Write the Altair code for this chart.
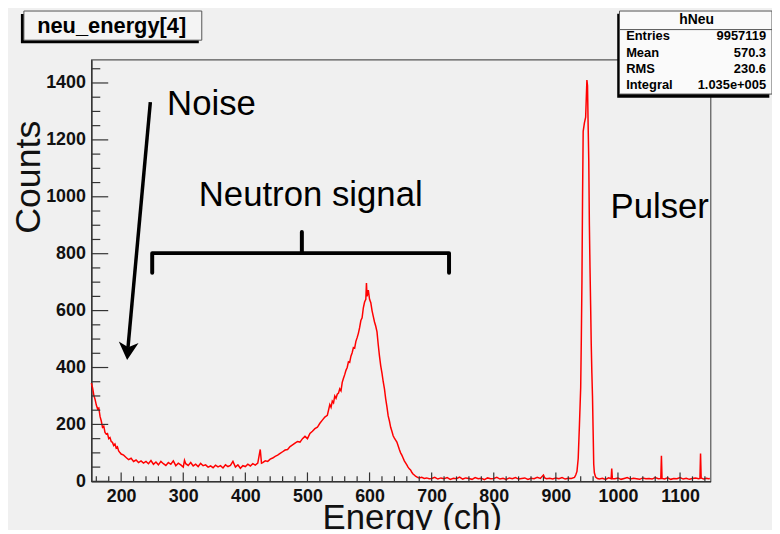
import altair as alt
import pandas as pd

# ---------------- data ----------------
energy = [152, 154, 156, 158, 160, 162, 164, 166, 168, 170, 172, 174, 176, 178, 180,
          182, 184, 186, 188, 190, 192, 194, 196, 198, 200, 204, 208, 212, 216, 220,
          224, 228, 232, 236, 240, 244, 248, 252, 256, 260, 264, 268, 272, 276, 280,
          284, 288, 292, 296, 300, 302, 304, 308, 312, 316, 320, 324, 328, 332, 336,
          340, 344, 348, 352, 356, 360, 364, 368, 372, 376, 380, 384, 388, 392, 396,
          400, 404, 408, 412, 416, 420, 424, 426, 428, 432, 436, 440, 444, 448, 452,
          456, 460, 464, 468, 472, 476, 480, 484, 488, 492, 496, 500, 504, 508, 512,
          516, 520, 524, 528, 532, 536, 538, 540, 542, 544, 546, 548, 550, 552, 554,
          556, 558, 560, 562, 564, 566, 568, 570, 572, 574, 576, 578, 580, 582, 584,
          586, 588, 590, 592, 594, 595, 596, 598, 600, 602, 604, 606, 608, 610, 612,
          614, 616, 618, 620, 622, 624, 626, 628, 630, 632, 634, 636, 638, 640, 642,
          644, 646, 648, 650, 652, 654, 656, 658, 660, 662, 664, 666, 668, 670, 672,
          674, 676, 678, 680, 684, 688, 692, 696, 700, 705, 710, 715, 720, 725, 730,
          735, 740, 745, 750, 755, 760, 765, 770, 775, 780, 785, 790, 795, 800, 805,
          810, 815, 820, 825, 830, 835, 840, 845, 850, 855, 860, 865, 870, 875, 880,
          882, 885, 890, 895, 900, 905, 910, 915, 920, 925, 930, 932, 934, 936, 938,
          940, 941, 942, 943, 944, 946, 948, 950, 951, 952, 953, 954, 955, 956, 957,
          958, 959, 960, 961, 962, 964, 967, 970, 975, 980, 985, 989, 990, 991, 995,
          1000, 1005, 1010, 1015, 1020, 1025, 1030, 1035, 1040, 1045, 1050, 1055, 1060, 1065, 1069,
          1070, 1071, 1075, 1080, 1085, 1090, 1095, 1100, 1105, 1110, 1115, 1120, 1125, 1130, 1132,
          1133, 1134, 1138, 1142, 1146, 1148]
counts = [345, 328, 302, 288, 268, 255, 258, 228, 212, 190, 194, 172, 166, 168, 150,
          154, 140, 137, 126, 131, 117, 121, 107, 101, 96, 92, 84, 76, 81, 70,
          75, 66, 72, 64, 70, 62, 73, 60, 68, 58, 70, 62, 56, 66, 60,
          72, 55, 64, 58, 50, 74, 62, 56, 66, 54, 60, 52, 63, 55, 58,
          50, 54, 48, 57, 51, 55, 47, 58, 52, 56, 70, 50, 58, 46, 55,
          52, 60, 54, 62, 57, 64, 112, 64, 66, 72, 70, 78, 82, 88, 92,
          98, 104, 110, 112, 122, 128, 134, 140, 138, 150, 158, 150, 168, 176, 185,
          190, 204, 215, 226, 232, 270, 260, 282, 276, 300, 292, 306, 310, 325, 318,
          348, 362, 375, 390, 400, 420, 418, 440, 452, 470, 468, 492, 505, 520, 540,
          565, 575, 610, 630, 640, 697, 650, 672, 640, 628, 600, 580, 560, 545, 525,
          480, 440, 406, 380, 350, 325, 290, 262, 230, 212, 190, 176, 160, 152, 145,
          138, 125, 112, 100, 92, 82, 72, 65, 58, 50, 44, 40, 32, 26, 22,
          18, 16, 13, 12, 14, 10, 12, 9, 10, 14, 8, 12, 9, 13, 7,
          11, 9, 15, 8, 12, 10, 7, 13, 9, 11, 6, 12, 9, 10, 14,
          8, 11, 7, 12, 9, 13, 8, 10, 12, 7, 11, 9, 14, 10, 22,
          12, 9, 11, 8, 12, 9, 13, 8, 11, 10, 14, 22, 35, 80, 200,
          330, 500, 700, 1000, 1230, 1260, 1280, 1410, 1390, 1250, 1130, 900, 750, 620, 480,
          380, 300, 180, 60, 30, 15, 10, 8, 11, 7, 12, 9, 45, 10, 9,
          12, 7, 10, 13, 8, 11, 9, 7, 12, 9, 10, 8, 13, 9, 10,
          90, 10, 8, 12, 7, 10, 9, 13, 8, 11, 7, 10, 12, 9, 10,
          98, 12, 8, 11, 9, 10]

x_major = [200, 300, 400, 500, 600, 700, 800, 900, 1000, 1100]
x_minor = [v for v in range(160, 1141, 20) if v % 100 != 0]
y_major = [0, 200, 400, 600, 800, 1000, 1200, 1400]
y_minor = [v for v in range(50, 1451, 50) if v % 200 != 0]

title_text = "neu_energy[4]"
stats_title = "hNeu"
stat_names = ["Entries", "Mean", "RMS", "Integral"]
stat_values = ["9957119", "570.3", "230.6", "1.035e+005"]

noise_x, noise_y = [274], [1287]
signal_x, signal_y = [325], [966]
pulser_x, pulser_y = [988], [925]
arrow_x, arrow_y = [247, 211], [1333, 470]
head_x, head_y = [211], [461]
bracket_x = [250, 250, 491, 491, 491, 728, 728]
bracket_y = [733, 802, 802, 876, 802, 802, 733]

# ---------------- chart ----------------
W, H = 624, 425
FONT = "Liberation Sans"
BG = "#f0f0f0"
xs = alt.Scale(domain=[152, 1149], nice=False, zero=False)
ys = alt.Scale(domain=[0, 1482], nice=False, zero=False)

df = pd.DataFrame({"energy": energy, "counts": counts})

hist = alt.Chart(df).mark_line(color="#ff0000", strokeWidth=1.5).encode(
    x=alt.X("energy:Q", scale=xs,
            axis=alt.Axis(values=x_major, format="d", ticks=False, tickSize=0, grid=False,
                          domainColor="#333333", domainWidth=1.5,
                          labelFont=FONT, labelFontWeight="bold", labelFontSize=18,
                          labelColor="#111111", labelPadding=6, labelFlush=False,
                          labelOverlap=False,
                          title="Energy (ch)", titleFont=FONT, titleFontSize=35,
                          titleFontWeight="normal", titleColor="#111111",
                          titleX=323, titleY=48, titleAlign="center",
                          titleBaseline="alphabetic")),
    y=alt.Y("counts:Q", scale=ys,
            axis=alt.Axis(values=y_major, format="d", ticks=False, tickSize=0, grid=False,
                          domainColor="#333333", domainWidth=1.5,
                          labelFont=FONT, labelFontWeight="bold", labelFontSize=18,
                          labelColor="#111111", labelPadding=6, labelFlush=False,
                          labelOverlap=False,
                          title="Counts", titleFont=FONT, titleFontSize=36,
                          titleFontWeight="normal", titleColor="#111111",
                          titleX=-52, titleY=118, titleAlign="center",
                          titleBaseline="alphabetic")),
)

def xticks(vals, length):
    return alt.Chart(pd.DataFrame({"energy": vals})).mark_rule(
        color="#333333", strokeWidth=1.2).encode(
        x=alt.X("energy:Q", scale=xs), y=alt.value(H), y2=alt.value(H - length))

def yticks(vals, length):
    return alt.Chart(pd.DataFrame({"counts": vals})).mark_rule(
        color="#333333", strokeWidth=1.2).encode(
        y=alt.Y("counts:Q", scale=ys), x=alt.value(0), x2=alt.value(length))

def label(xv, yv, txt, size=35):
    return alt.Chart(pd.DataFrame({"energy": xv, "counts": yv})).mark_text(
        text=txt, font=FONT, fontSize=size, align="left", baseline="alphabetic",
        color="#000000").encode(
        x=alt.X("energy:Q", scale=xs), y=alt.Y("counts:Q", scale=ys))

arrow = alt.Chart(pd.DataFrame({"energy": arrow_x, "counts": arrow_y})).mark_line(
    color="#000000", strokeWidth=3.5).encode(
    x=alt.X("energy:Q", scale=xs), y=alt.Y("counts:Q", scale=ys))
head = alt.Chart(pd.DataFrame({"energy": head_x, "counts": head_y})).mark_point(
    shape="M0,1L-1,-0.8L0,-0.3L1,-0.8Z", filled=True, size=400, angle=5,
    color="#000000", opacity=1).encode(
    x=alt.X("energy:Q", scale=xs), y=alt.Y("counts:Q", scale=ys))
bracket = alt.Chart(pd.DataFrame({"energy": bracket_x, "counts": bracket_y,
                                  "o": list(range(len(bracket_x)))})).mark_line(
    color="#000000", strokeWidth=4, strokeJoin="round", strokeCap="round").encode(
    x=alt.X("energy:Q", scale=xs), y=alt.Y("counts:Q", scale=ys), order="o:Q")

one = pd.DataFrame({"a": [0]})

def box(x1, x2, y1, y2, fill, stroke=None):
    kw = dict(fill=fill)
    if stroke:
        kw.update(stroke=stroke, strokeWidth=1)
    return alt.Chart(one).mark_rect(**kw).encode(
        x=alt.value(x1), x2=alt.value(x2), y=alt.value(y1), y2=alt.value(y2))

def ptext(txt, x, y, size, align="left", weight="bold"):
    return alt.Chart(one).mark_text(text=txt, font=FONT, fontSize=size, fontWeight=weight,
                                    align=align, baseline="alphabetic",
                                    color="#000000").encode(
        x=alt.value(x), y=alt.value(y))

title_layers = [
    box(-71, 108.3, -46, -16.6, "#000000"),
    box(-68, 111.3, -49, -19.6, "#f4f4f4", "#555555"),
    ptext(title_text, 20.5, -27, 22, align="center"),
]

stats_layers = [
    box(530, 683.3, -46.3, 38.4, "#000000"),
    box(532.3, 686, -49, 34.7, "#fafafa", "#555555"),
    alt.Chart(one).mark_rule(color="#555555", strokeWidth=1).encode(
        x=alt.value(532.3), x2=alt.value(686), y=alt.value(-30.3)),
    ptext(stats_title, 610, -35.5, 14, align="center"),
]
for i, (n, v) in enumerate(zip(stat_names, stat_values)):
    yy = -19.3 + i * 16.2
    stats_layers.append(ptext(n, 539, yy, 13))
    stats_layers.append(ptext(v, 680, yy, 13, align="right"))

chart = alt.layer(
    hist,
    xticks(x_minor, 5), xticks(x_major, 9),
    yticks(y_minor, 9), yticks(y_major, 17),
    arrow, head, bracket,
    label(noise_x, noise_y, "Noise"),
    label(signal_x, signal_y, "Neutron signal"),
    label(pulser_x, pulser_y, "Pulser"),
    *title_layers, *stats_layers,
).properties(
    width=W, height=H, background=BG,
    autosize=alt.AutoSizeParams(type="none"),
    padding={"left": 84, "top": 50, "right": 62, "bottom": 47},
).configure_view(stroke="#555555", strokeWidth=1.2)

chart.save("out.html", embed_options={"renderer": "svg", "actions": False})
